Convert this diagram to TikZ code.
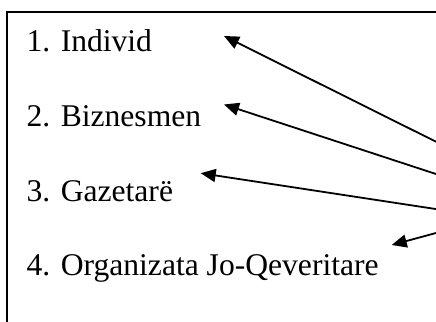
\documentclass[tikz,border=0pt]{standalone}
\usepackage{fontspec}
\setmainfont{Liberation Serif}
\usetikzlibrary{arrows.meta}
\begin{document}
\begin{tikzpicture}[x=1pt,y=-1pt,>={Triangle[length=15pt,width=13pt]},
    item/.style={anchor=base west, font=\fontsize{31.6}{38}\selectfont}]
        \def\gap{74.5}
        \useasboundingbox (0,0) rectangle (436,321);
        \clip (0,0) rectangle (436,321);
        \draw[line width=2pt] (7,12) rectangle (460,340);% box runs off the page

        \node[item] (indiv) at (23,52) {1. Individ};
        \node[item] (biznes) at (23,52+\gap) {2. Biznesmen};
        \node[item] (gazet) at (23,52+2*\gap) {3. Gazetarë};
        \node[item] (ojq) at (23,52+3*\gap) {4. Organizata Jo-Qeveritare};

        \coordinate (s1) at (450,148.7);
        \coordinate (s2) at (450,178.6);
        \coordinate (s3) at (450,211.2);
        \coordinate (s4) at (450,229.2);

        \draw[->, line width=1.8pt] (s1) -- ([xshift=201pt,yshift=16pt]indiv.base west);
        \draw[->, line width=1.8pt] (s2) -- ([xshift=201pt,yshift=22pt]biznes.base west);
        \draw[->, line width=1.8pt] (s3) -- ([xshift=177.7pt,yshift=27.8pt]gazet.base west);
        \draw[->, line width=1.8pt] (s4) -- ([xshift=368.7pt,yshift=30.5pt]ojq.base west);
    \end{tikzpicture}
\end{document}
